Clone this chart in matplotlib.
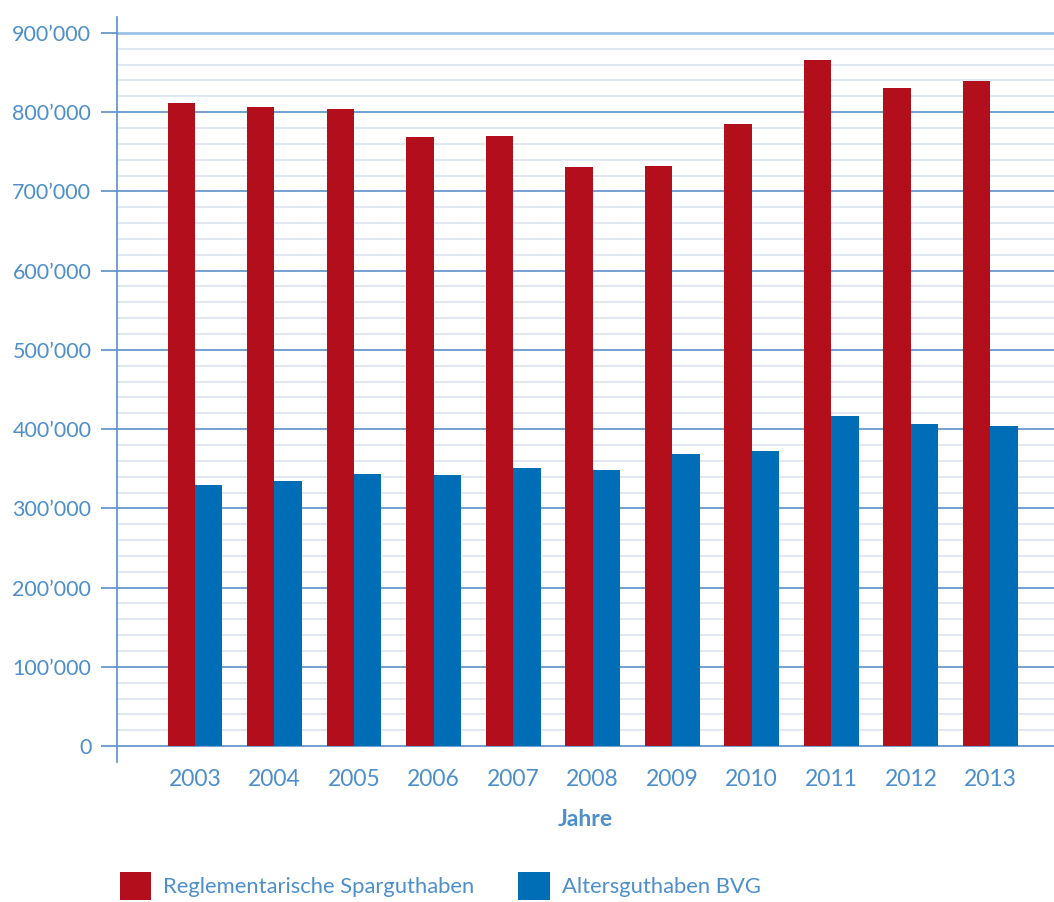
import numpy as np
import matplotlib
matplotlib.use('Agg')
import matplotlib.pyplot as plt
from matplotlib.ticker import FuncFormatter

years = ['2003', '2004', '2005', '2006', '2007', '2008', '2009', '2010', '2011', '2012', '2013']
spar = [811000, 806500, 804000, 769000, 770000, 731000, 732500, 785000, 866000, 830500, 839500]
bvg = [329000, 335000, 343000, 341500, 351500, 349000, 368000, 373000, 417000, 406000, 403500]

red = '#B20E1C'
blue = '#006EB7'
txt = '#4D8FCC'
grid_c = '#5B90C8'

plt.rcParams['font.family'] = ['Lato', 'DejaVu Sans']

fig = plt.figure(figsize=(10.54, 9.02), dpi=100)
ax = fig.add_axes([117 / 1054, (902 - 762) / 902, 1 - 117 / 1054, (762 - 17) / 902])

x = np.arange(len(years))
w = 0.345
ax.bar(x - w / 2, spar, w, color=red, label='Reglementarische Sparguthaben', zorder=3)
ax.bar(x + w / 2, bvg, w, color=blue, label='Altersguthaben BVG', zorder=3)

ax.set_xlim(-0.98, 10.8)
ax.set_ylim(-20000, 920000)

ax.set_yticks(np.arange(0, 900001, 100000))
ax.set_yticks(np.arange(0, 900001, 20000), minor=True)
ax.yaxis.set_major_formatter(FuncFormatter(lambda v, p: '0' if v == 0 else f'{int(v):,}'.replace(',', '\u2019')))
ax.grid(axis='y', which='minor', color='#E2E8F2', linewidth=1.5, zorder=0)
ax.grid(axis='y', which='major', color=grid_c, linewidth=1.2, zorder=1)
ax.tick_params(axis='y', which='major', length=11.5, width=1.2, color=grid_c,
               labelcolor=txt, labelsize=15.5, pad=7)
ax.tick_params(axis='y', which='minor', length=0)
# top line is lighter in the original
ax.get_ygridlines()[-1].set_color('#9CC2E6')
ax.get_ygridlines()[-1].set_linewidth(2)
ax.yaxis.get_major_ticks()[-1].tick1line.set_color('#9CC2E6')

ax.set_xticks(x)
ax.set_xticklabels(years)
ax.tick_params(axis='x', length=0, labelcolor=txt, labelsize=16.5, pad=5)
ax.set_xlabel('Jahre', color=txt, fontsize=16.5, fontweight='bold', labelpad=14)

for s in ['top', 'right', 'bottom']:
    ax.spines[s].set_visible(False)
ax.spines['left'].set_color(grid_c)
ax.spines['left'].set_linewidth(1.2)

leg = fig.legend(loc='lower left', bbox_to_anchor=(120 / 1054, 2 / 902), ncol=2, frameon=False,
                 fontsize=15.8, handlelength=1.42, handleheight=1.6, handletextpad=0.55,
                 columnspacing=2.0, labelcolor=txt, borderpad=0, borderaxespad=0)

fig.savefig('out.png', dpi=100)
